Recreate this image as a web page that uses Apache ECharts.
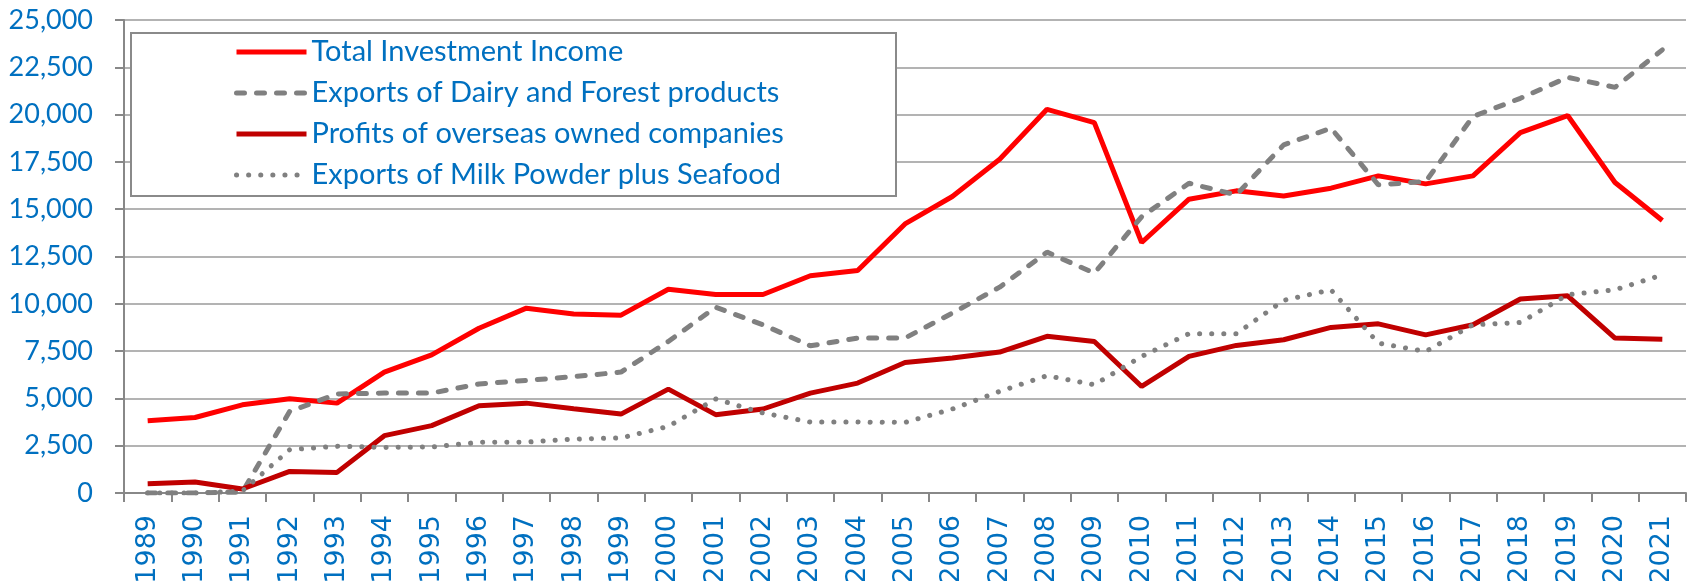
<!DOCTYPE html>
<html>
<head>
<meta charset="utf-8">
<script src="https://cdn.jsdelivr.net/npm/echarts@6/dist/echarts.min.js"></script>
<style>
  html, body { margin: 0; padding: 0; background: #fff; }
  #chart { width: 1691px; height: 581px; }
</style>
</head>
<body>
<div id="chart"></div>
<script>
const years = ['1989','1990','1991','1992','1993','1994','1995','1996','1997','1998','1999',
  '2000','2001','2002','2003','2004','2005','2006','2007','2008','2009','2010',
  '2011','2012','2013','2014','2015','2016','2017','2018','2019','2020','2021']

const totalInvestmentIncome = [3820,3990,4660,4980,4750,6390,7300,8710,9770,9460,9400,
  10770,10490,10490,11480,11760,14220,15670,17640,20280,19580,13240,
  15530,15970,15700,16110,16760,16340,16760,19050,19950,16410,14400]

const dairyForestExports = [0,0,50,4310,5230,5280,5280,5760,5950,6150,6390,
  8010,9820,8890,7780,8190,8190,9510,10880,12730,11620,14600,
  16370,15760,18400,19280,16290,16460,19900,20860,21970,21440,23420]

const overseasProfits = [490,580,210,1140,1090,3030,3560,4610,4750,4450,4170,
  5490,4140,4440,5280,5810,6900,7130,7450,8280,8010,5630,
  7220,7800,8100,8750,8940,8360,8890,10250,10420,8190,8130]

const milkPowderSeafood = [0,0,100,2290,2470,2410,2430,2680,2690,2850,2910,
  3520,4970,4230,3750,3750,3730,4440,5370,6200,5720,7220,
  8420,8420,10180,10740,7920,7480,8890,9010,10480,10740,11530]

const seriesNames = ['Total Investment Income', 'Exports of Dairy and Forest products',
  'Profits of overseas owned companies', 'Exports of Milk Powder plus Seafood']

const BLUE = '#0070C0'
const GRID_GREY = '#9a9a9a'

const myChart = echarts.init(document.getElementById('chart'))

const option = {
  animation: false,
  backgroundColor: '#fff',
  // year labels run off the bottom edge like in the original, so don't let the grid shrink
  grid: { left: 124, right: 5, top: 20, bottom: 88, outerBoundsMode: 'none' },
  // legend frame, white so the grid lines stop at it
  graphic: [{
    type: 'rect',
    z: 50,
    shape: { x: 131, y: 33, width: 765, height: 163 },
    style: { fill: '#fff', stroke: '#8a8a8a', lineWidth: 2 }
  }],
  legend: {
    orient: 'vertical',
    left: 234,
    top: 37,
    z: 60,
    padding: 0,
    itemWidth: 70,
    itemHeight: 30,
    itemGap: 11,
    data: seriesNames,
    itemStyle: { opacity: 0 },
    lineStyle: { width: 5 },
    textStyle: {
      color: BLUE,
      fontFamily: 'Lato',
      fontSize: 29,
      lineHeight: 30
    }
  },
  xAxis: {
    type: 'category',
    data: years,
    boundaryGap: true,
    axisLine: { lineStyle: { color: '#888', width: 2 } },
    axisTick: { show: true, length: 9, lineStyle: { color: '#888', width: 2 } },
    axisLabel: {
      rotate: 90,
      margin: 22,
      interval: 0,
      color: BLUE,
      fontSize: 27,
      fontFamily: 'DejaVu Sans'
    },
    splitLine: { show: false }
  },
  yAxis: {
    type: 'value',
    min: 0,
    max: 25000,
    interval: 2500,
    axisLine: { show: true, lineStyle: { color: '#888', width: 2 } },
    axisTick: { show: true, length: 9, lineStyle: { color: '#888', width: 2 } },
    axisLabel: {
      margin: 31,
      color: BLUE,
      fontSize: 27,
      fontFamily: 'Lato',
      formatter: v => v.toLocaleString('en-US')
    },
    splitLine: { lineStyle: { color: GRID_GREY, width: 1.5 } }
  },
  series: [
    {
      name: seriesNames[0],
      type: 'line',
      data: totalInvestmentIncome,
      symbol: 'none',
      color: '#FF0000',
      lineStyle: { color: '#FF0000', width: 5 }
    },
    {
      name: seriesNames[1],
      type: 'line',
      data: dairyForestExports,
      symbol: 'none',
      color: '#808080',
      lineStyle: { color: '#808080', width: 5, type: [8, 12], cap: 'round' }
    },
    {
      name: seriesNames[2],
      type: 'line',
      data: overseasProfits,
      symbol: 'none',
      color: '#C00000',
      lineStyle: { color: '#C00000', width: 5 }
    },
    {
      name: seriesNames[3],
      type: 'line',
      data: milkPowderSeafood,
      symbol: 'none',
      color: '#808080',
      lineStyle: { color: '#808080', width: 5, type: [0.1, 12], cap: 'round' }
    }
  ]
}

myChart.setOption(option)
</script>
</body>
</html>
